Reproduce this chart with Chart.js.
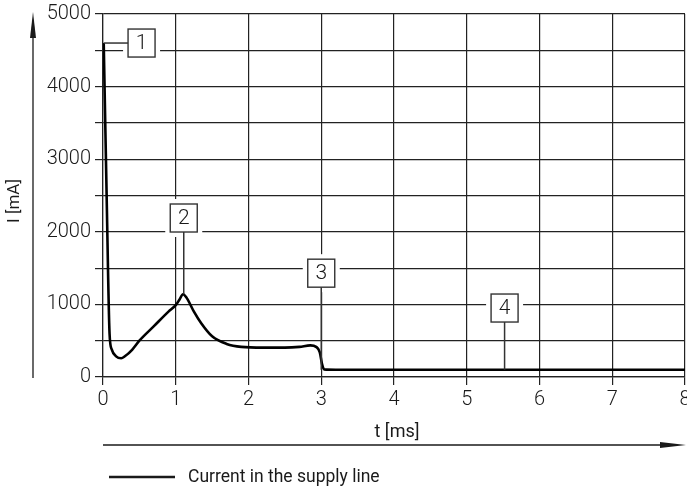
<!DOCTYPE html>
<html>
<head>
<meta charset="utf-8">
<script src="https://cdn.jsdelivr.net/npm/chart.js@4/dist/chart.umd.min.js"></script>
<style>
html,body{margin:0;padding:0;background:#fff;}
#wrap{width:687px;height:490px;position:relative;}
</style>
</head>
<body>
<div id="wrap"><canvas id="c" width="687" height="490"></canvas></div>
<script>
// ---- data ----
const timeMs = [0.01, 0.05, 0.09, 0.12, 0.18, 0.25, 0.3, 0.4, 0.5, 0.7, 0.9, 1.0, 1.05, 1.1, 1.15, 1.25, 1.35, 1.5, 1.7, 1.9, 2.2, 2.5, 2.7, 2.85, 2.93, 2.98, 3.01, 3.04, 3.2, 5.5, 8.0];
const currentMA = [4600, 2500, 600, 380, 285, 258, 285, 375, 500, 700, 900, 990, 1065, 1140, 1090, 900, 740, 560, 455, 415, 405, 405, 415, 435, 415, 340, 180, 105, 100, 100, 100];
const seriesLabel = 'Current in the supply line';
const xTicks = [0, 1, 2, 3, 4, 5, 6, 7, 8];
const yTicks = [0, 1000, 2000, 3000, 4000, 5000];
const calloutLabels = ['1', '2', '3', '4'];
const calloutBoxT = [0.53, 1.11, 3.0, 5.52];
const calloutBoxI = [4600, 2190, 1430, 950];
const calloutTargetT = [0.01, 1.11, 3.0, 5.52];
const calloutTargetI = [4600, 1140, 100, 100];

const FONT = 'Roboto, "Noto Sans", sans-serif';
const INK = '#1a1a1a';

const points = timeMs.map((t, i) => ({x: t, y: currentMA[i]}));

const decorPlugin = {
  id: 'decor',
  beforeDatasetsDraw(chart) {
    const ctx = chart.ctx, xs = chart.scales.x, ys = chart.scales.y;
    ctx.save();
    ctx.fillStyle = '#fff';
    calloutLabels.forEach((lab, i) => {
      const cx = xs.getPixelForValue(calloutBoxT[i]);
      const cy = ys.getPixelForValue(calloutBoxI[i]);
      const w = 27, h = 28, p = 5;
      ctx.fillRect(cx - w/2 - p, cy - h/2 - p, w + 2*p, h + 2*p);
    });
    ctx.restore();
  },
  afterDatasetsDraw(chart) {
    const ctx = chart.ctx, xs = chart.scales.x, ys = chart.scales.y;
    const ca = chart.chartArea;
    ctx.save();
    // callouts
    calloutLabels.forEach((lab, i) => {
      const cx = xs.getPixelForValue(calloutBoxT[i]);
      const cy = ys.getPixelForValue(calloutBoxI[i]);
      const tx = xs.getPixelForValue(calloutTargetT[i]);
      const ty = ys.getPixelForValue(calloutTargetI[i]);
      const w = 27, h = 28;
      ctx.strokeStyle = '#333';
      ctx.lineWidth = 1.5;
      ctx.beginPath();
      if (Math.abs(ty - cy) < 3) {
        ctx.moveTo(tx, ty);
        ctx.lineTo(cx - w/2, ty);
      } else {
        ctx.moveTo(cx, cy + h/2);
        ctx.lineTo(tx, ty);
      }
      ctx.stroke();
      ctx.strokeStyle = '#333';
      ctx.lineWidth = 1.4;
      ctx.strokeRect(cx - w/2, cy - h/2, w, h);
      ctx.fillStyle = INK;
      ctx.font = '300 21px ' + FONT;
      ctx.textAlign = 'center';
      ctx.textBaseline = 'middle';
      ctx.fillText(lab, cx, cy + 1);
    });
    // y-axis arrow
    ctx.strokeStyle = INK; ctx.fillStyle = INK; ctx.lineWidth = 1.3;
    ctx.beginPath(); ctx.moveTo(33, 378); ctx.lineTo(33, 30); ctx.stroke();
    ctx.beginPath(); ctx.moveTo(33, 12); ctx.lineTo(36, 38); ctx.lineTo(30, 38); ctx.closePath(); ctx.fill();
    // x-axis arrow
    ctx.beginPath(); ctx.moveTo(ca.left, 445); ctx.lineTo(665, 445); ctx.stroke();
    ctx.beginPath(); ctx.moveTo(686, 445); ctx.lineTo(660, 442); ctx.lineTo(660, 448); ctx.closePath(); ctx.fill();
    // axis titles
    ctx.font = '400 18px ' + FONT;
    ctx.textAlign = 'center'; ctx.textBaseline = 'middle';
    ctx.fillText('t [ms]', 397, 432);
    ctx.save();
    ctx.translate(15, 201); ctx.rotate(-Math.PI/2);
    ctx.font = '400 17px ' + FONT;
    ctx.fillText('I [mA]', 0, 0);
    ctx.restore();
    // legend
    const ds = chart.data.datasets[0];
    ctx.lineWidth = 2.6;
    ctx.beginPath(); ctx.moveTo(109, 477); ctx.lineTo(175, 477); ctx.stroke();
    ctx.textAlign = 'left';
    ctx.font = '400 17.5px ' + FONT;
    ctx.fillText(ds.label, 188, 478);
    ctx.restore();
  }
};

new Chart(document.getElementById('c'), {
  type: 'line',
  data: {
    datasets: [{
      label: seriesLabel,
      data: points,
      borderColor: '#000',
      borderWidth: 2.6,
      pointRadius: 0,
      fill: false,
      cubicInterpolationMode: 'monotone'
    }]
  },
  options: {
    responsive: false,
    animation: false,
    devicePixelRatio: 1,
    layout: {padding: {top: 14, right: 2, left: 0, bottom: 0}},
    plugins: {legend: {display: false}, tooltip: {enabled: false}},
    scales: {
      x: {
        type: 'linear', min: 0, max: 8,
        afterBuildTicks(s) { s.ticks = xTicks.map(v => ({value: v})); },
        afterFit(s) { s.height = 113; s.paddingLeft = 0; s.paddingRight = 0; },
        ticks: {color: INK, font: {family: FONT, size: 20, weight: '300'}, padding: 3, maxRotation: 0, autoSkip: false},
        grid: {color: '#222', lineWidth: 1.2, tickLength: 8, tickColor: '#222'},
        border: {color: '#222', width: 1.2}
      },
      y: {
        type: 'linear', min: 0, max: 5000,
        ticks: {stepSize: 500, color: INK, font: {family: FONT, size: 20, weight: '300'}, padding: 4,
          callback: v => (yTicks.includes(v) ? String(v) : '')},
        afterFit(s) { s.width = 103; s.paddingTop = 0; s.paddingBottom = 0; },
        grid: {color: '#222', lineWidth: 1.2, tickLength: 8, tickColor: '#222'},
        border: {color: '#222', width: 1.2}
      }
    }
  },
  plugins: [decorPlugin]
});
</script>
</body>
</html>
